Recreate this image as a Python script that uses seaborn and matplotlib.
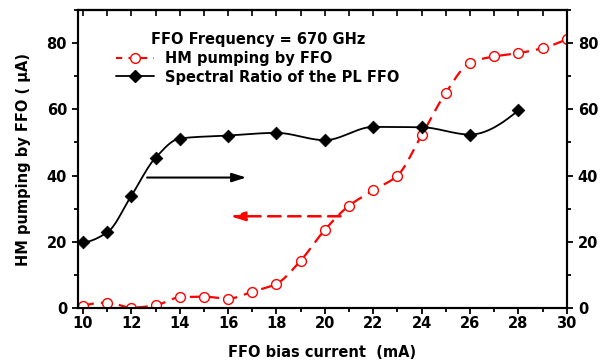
import numpy as np
import pandas as pd
import matplotlib
matplotlib.use('Agg')
import matplotlib.pyplot as plt
from matplotlib.lines import Line2D
from matplotlib.ticker import MultipleLocator
import seaborn as sns

# HM pumping by FFO (red, open circles)
hm_current = [10, 11, 12, 13, 14, 15, 16, 17, 18, 19, 20,
              21, 22, 23, 24, 25, 26, 27, 28, 29, 30]
hm_pumping = [0.6, 1.6, 0.1, 0.8, 3.2, 3.4, 2.8, 4.9, 7.3, 14.3, 23.6,
              30.9, 35.5, 40.0, 52.2, 65.0, 74.1, 76.0, 77.0, 78.5, 81.2]

# Spectral ratio of the PL FFO (black diamonds)
sr_current = [10, 11, 12, 13, 14, 16, 18, 20, 22, 24, 26, 28]
sr_ratio = [19.9, 22.8, 33.9, 45.4, 51.2, 52.1, 52.9, 50.7, 54.7, 54.6, 52.4, 59.7]


def smooth(x, y, n=400):
    # shape preserving cubic (pchip) drawn through the points
    x = np.asarray(x, float)
    y = np.asarray(y, float)
    h = np.diff(x)
    delta = np.diff(y) / h
    d = np.zeros_like(y)
    for k in range(1, len(x) - 1):
        if delta[k - 1] * delta[k] > 0:
            w1 = 2 * h[k] + h[k - 1]
            w2 = h[k] + 2 * h[k - 1]
            d[k] = (w1 + w2) / (w1 / delta[k - 1] + w2 / delta[k])
    for i0, i1, j in ((0, 1, 0), (-1, -2, -1)):
        h0, h1 = h[i0], h[i1]
        dd = ((2 * h0 + h1) * delta[i0] - h0 * delta[i1]) / (h0 + h1)
        if np.sign(dd) != np.sign(delta[i0]):
            dd = 0
        d[j] = dd
    xs = np.linspace(x[0], x[-1], n)
    idx = np.clip(np.searchsorted(x, xs) - 1, 0, len(x) - 2)
    hh = h[idx]
    t = (xs - x[idx]) / hh
    h00 = 2 * t**3 - 3 * t**2 + 1
    h10 = t**3 - 2 * t**2 + t
    h01 = -2 * t**3 + 3 * t**2
    h11 = t**3 - t**2
    ys = h00 * y[idx] + h10 * hh * d[idx] + h01 * y[idx + 1] + h11 * hh * d[idx + 1]
    return xs, ys


sns.set_style('ticks')
plt.rcParams['font.family'] = ['DejaVu Sans']
plt.rcParams['font.weight'] = 'bold'
plt.rcParams['axes.linewidth'] = 1.5
for key in ['text.color', 'axes.labelcolor', 'xtick.color', 'ytick.color', 'axes.edgecolor']:
    plt.rcParams[key] = 'black'

FS = 10.5

fig = plt.figure(figsize=(6.01, 3.61), dpi=100)
ax = fig.add_axes([0.130, 0.147, 0.813, 0.825])

hm = pd.DataFrame({'I': hm_current, 'P': hm_pumping})
sr = pd.DataFrame({'I': sr_current, 'R': sr_ratio})

xs, ys = smooth(hm_current, hm_pumping)
ax.plot(xs, ys, color='red', lw=1.6, dashes=(5, 3.2), zorder=2)
xs, ys = smooth(sr_current, sr_ratio)
ax.plot(xs, ys, color='black', lw=1.3, zorder=2)

sns.scatterplot(data=hm, x='I', y='P', ax=ax, marker='o', s=50,
                facecolor='white', edgecolor='red', linewidth=1.0, zorder=3)
sns.scatterplot(data=sr, x='I', y='R', ax=ax, marker='D', s=42,
                color='black', edgecolor='black', zorder=3)

ax.set_xlim(9.8, 30)
ax.set_ylim(0, 90)
ax.xaxis.set_major_locator(MultipleLocator(2))
ax.xaxis.set_minor_locator(MultipleLocator(1))
ax.yaxis.set_major_locator(MultipleLocator(20))
ax.yaxis.set_minor_locator(MultipleLocator(10))
ax.tick_params(axis='both', which='major', length=4, width=1.3, labelsize=FS, direction='out')
ax.tick_params(axis='both', which='minor', length=3, width=1.3, direction='out')
ax.tick_params(axis='x', pad=2)
ax.tick_params(axis='y', pad=4)

# top ticks, inward, no labels
top = ax.secondary_xaxis('top')
top.xaxis.set_major_locator(MultipleLocator(1))
top.tick_params(direction='in', length=4, width=1.2, labeltop=False)

# right axis repeats the scale
right = ax.twinx()
right.set_ylim(ax.get_ylim())
right.yaxis.set_major_locator(MultipleLocator(20))
right.yaxis.set_minor_locator(MultipleLocator(10))
right.tick_params(which='major', length=4, width=1.3, labelsize=FS, direction='out', pad=4)
right.tick_params(which='minor', length=3, width=1.3, direction='out')
for t in ax.get_xticklabels() + ax.get_yticklabels() + right.get_yticklabels():
    t.set_fontweight('bold')

ax.set_xlabel('FFO bias current  (mA)', fontsize=FS, fontweight='bold', labelpad=10)
ax.set_ylabel('HM pumping by FFO ( \u03bcA)', fontsize=FS, fontweight='bold', labelpad=11)

# arrows pointing to the relevant axis
ax.annotate('', xy=(16.75, 39.4), xytext=(12.65, 39.4),
            arrowprops=dict(arrowstyle='-|>,head_length=0.7,head_width=0.22', color='black',
                            lw=1.5, mutation_scale=12, shrinkA=0, shrinkB=0))
ax.annotate('', xy=(16.1, 27.7), xytext=(20.65, 27.7),
            arrowprops=dict(arrowstyle='-|>,head_length=0.7,head_width=0.22', color='red',
                            lw=1.8, ls=(0, (5, 3)), mutation_scale=12, shrinkA=0, shrinkB=0))

handles = [
    Line2D([], [], color='red', dashes=(3, 3), lw=1.5, marker='o',
           markerfacecolor='white', markeredgecolor='red', markersize=7),
    Line2D([], [], color='black', lw=1.3, marker='D', markersize=6),
]
leg = ax.legend(handles, ['HM pumping by FFO', 'Spectral Ratio of the PL FFO'],
                title='FFO Frequency = 670 GHz', loc='upper left',
                bbox_to_anchor=(0.065, 0.947), frameon=False, handlelength=2.6,
                handletextpad=0.8, labelspacing=0.25, borderaxespad=0,
                prop={'size': FS, 'weight': 'bold'},
                title_fontproperties={'size': FS, 'weight': 'bold'})
leg._legend_box.sep = 3

fig.savefig('out.png', dpi=100)
